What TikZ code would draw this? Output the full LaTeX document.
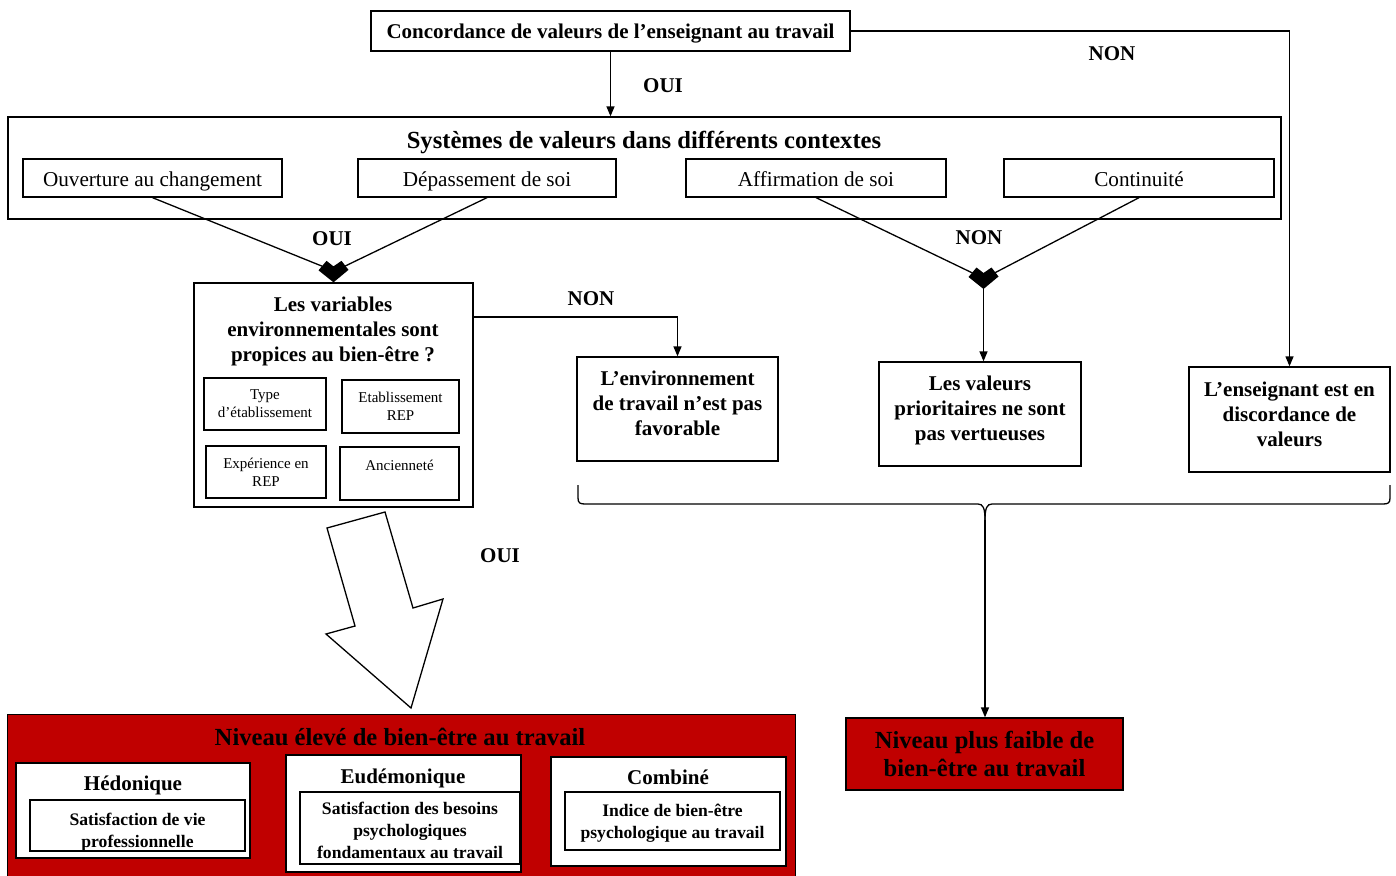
\documentclass[tikz,border=0pt]{standalone}
\usepackage{fontspec}
\setmainfont{Liberation Serif}
\usetikzlibrary{arrows.meta}
\definecolor{dred}{HTML}{C00000}
\newcommand\dn[1]{\rule{0pt}{#1}}
\begin{document}
\begin{tikzpicture}[x=1pt,y=-1pt,
  box/.style={draw, line width=1.3pt, fill=white, inner sep=0pt, align=center},
  redbox/.style={draw, line width=1.3pt, fill=dred, inner sep=0pt, align=center},
  one/.style={text height=21pt, text depth=5pt},
  lab/.style={font={\fontsize{21}{25}\selectfont\bfseries}, inner sep=0pt},
  btitle/.style={font={\fontsize{24.6}{28}\selectfont\bfseries}, inner sep=0pt, align=center},
  bmed/.style={font={\fontsize{21}{25}\selectfont\bfseries}},
  rmed/.style={font={\fontsize{21.2}{25}\selectfont}},
  rsmall/.style={font={\fontsize{15}{18}\selectfont}},
  bsmall/.style={font={\fontsize{17.6}{22}\selectfont\bfseries}},
  arr/.style={-{Triangle[length=10pt,width=8pt]}, line width=1.3pt},
  ln/.style={line width=1.3pt},
  junc/.pic={\fill (-15,-12) -- (-7,-21.5) -- (0,-16) -- (8,-21.5) -- (15,-12.5) -- (0,0) -- cycle;}]
\useasboundingbox (0,0) rectangle (1396,875);

% top box
\node[box, bmed, one, minimum width=479pt, minimum height=40pt] (top) at (610.5,31) {Concordance de valeurs de l’enseignant au travail};

% value systems
\node[box, minimum width=1273pt, minimum height=102pt] (sys) at (644.5,168) {};
\node[btitle] (systitle) at (644,142) {Systèmes de valeurs dans différents contextes};
\node[box, rmed, one, minimum width=259pt, minimum height=38pt] (ouv) at (152.5,178) {Ouverture au changement};
\node[box, rmed, one, minimum width=258pt, minimum height=38pt] (dep) at (487,178) {Dépassement de soi};
\node[box, rmed, one, minimum width=260pt, minimum height=38pt] (aff) at (816,178) {Affirmation de soi};
\node[box, rmed, one, minimum width=270pt, minimum height=38pt] (cont) at (1139,178) {Continuité};

% environment box
\node[box, minimum width=279pt, minimum height=224pt] (env) at (333.5,395) {};
\node[bmed, inner sep=0pt, align=center] (envtitle) at (333,331) {Les variables\\environnementales sont\\propices au bien-être ?};
\node[box, rsmall, minimum width=122pt, minimum height=52pt] (type) at (265,404) {Type\\d’établissement};
\node[box, rsmall, minimum width=117pt, minimum height=53pt] (etab) at (400.5,406.5) {Etablissement\\REP};
\node[box, rsmall, minimum width=120pt, minimum height=52pt] (exp) at (266,472) {Expérience en\\REP};
\node[box, rsmall, minimum width=119pt, minimum height=53pt] (anc) at (399.5,473.5) {\dn{17pt}Ancienneté\\\strut};

% outcome boxes
\node[box, bmed, minimum width=201pt, minimum height=104pt] (envfav) at (677.5,409) {L’environnement\\de travail n’est pas\\favorable\\[-14pt]};
\node[box, bmed, minimum width=202pt, minimum height=104pt] (val) at (980,414) {Les valeurs\\prioritaires ne sont\\pas vertueuses\\[-14pt]};
\node[box, bmed, minimum width=201pt, minimum height=105pt] (disc) at (1289.5,419.5) {L’enseignant est en\\discordance de\\valeurs\\[-14pt]};

% low well-being
\node[redbox, btitle, minimum width=277pt, minimum height=72pt] (low) at (984.5,754) {Niveau plus faible de\\bien-être au travail};

% high well-being
\node[redbox, minimum width=788pt, minimum height=170pt, anchor=north west] (high) at (7,714) {};
\node[btitle] (hightitle) at (400,737) {Niveau élevé de bien-être au travail};
\node[box, minimum width=234pt, minimum height=95pt] (hed) at (133,810.5) {};
\node[bmed, inner sep=0pt] (hedt) at (133,785) {Hédonique};
\node[box, bsmall, minimum width=215pt, minimum height=51pt] (hedi) at (137.5,825.5) {\dn{25pt}Satisfaction de vie\\professionnelle};
\node[box, minimum width=235pt, minimum height=117pt] (eud) at (403.5,813.5) {};
\node[bmed, inner sep=0pt] (eudt) at (403,778) {Eudémonique};
\node[box, bsmall, minimum width=220pt, minimum height=72pt] (eudi) at (410,828) {\dn{16.5pt}Satisfaction des besoins\\psychologiques\\fondamentaux au travail};
\node[box, minimum width=235pt, minimum height=109pt] (comb) at (668.5,811.5) {};
\node[bmed, inner sep=0pt] (combt) at (668,777) {Combiné};
\node[box, bsmall, minimum width=215pt, minimum height=58pt] (combi) at (672.5,821) {\dn{16.5pt}Indice de bien-être\\psychologique au travail};

% junctions
\coordinate (j1) at (env.north);
\coordinate (j2) at (983.5,289);
\draw[ln] (ouv.south) -- ([shift={(-11,-16)}]j1);
\draw[ln] (dep.south) -- ([shift={(11,-16)}]j1);
\pic at (j1) {junc};
\draw[ln] (aff.south) -- ([shift={(-11,-16)}]j2);
\draw[ln] (cont.south) -- ([shift={(11,-16)}]j2);
\pic at (j2) {junc};

% connectors
\draw[arr] (top.south) -- (top.south |- sys.north);
\draw[arr] (top.east) -| (disc.north);
\draw[arr] (j2) -- (j2 |- val.north);
\coordinate (envout) at (473,317);
\draw[arr] (envout) -| (envfav.north);

% brace
\coordinate (bl) at (578,485);
\coordinate (br) at (1390,485);
\coordinate (btip) at (985,520);
\draw[ln] (bl) -- (578,498) .. controls (578,503) and (580,504) .. (585,504) -- (978,504) .. controls (983,504) and (985,508) .. (btip);
\draw[ln] (br) -- (1390,498) .. controls (1390,503) and (1388,504) .. (1383,504) -- (992,504) .. controls (987,504) and (985,508) .. (btip);
\draw[arr] (btip) -- (btip |- low.north);

% big hollow arrow
\draw[ln, fill=white, line join=miter] (327,528) -- (385,512) -- (413,608) -- (443,599) -- (411,708) -- (326,634) -- (355,626) -- cycle;

% labels
\node[lab] (l1) at (663,86) {OUI};
\node[lab] (l2) at (1112,54) {NON};
\node[lab] (l3) at (332,239) {OUI};
\node[lab] (l4) at (979,238) {NON};
\node[lab] (l5) at (591,299) {NON};
\node[lab] (l6) at (500,556) {OUI};
\end{tikzpicture}
\end{document}
